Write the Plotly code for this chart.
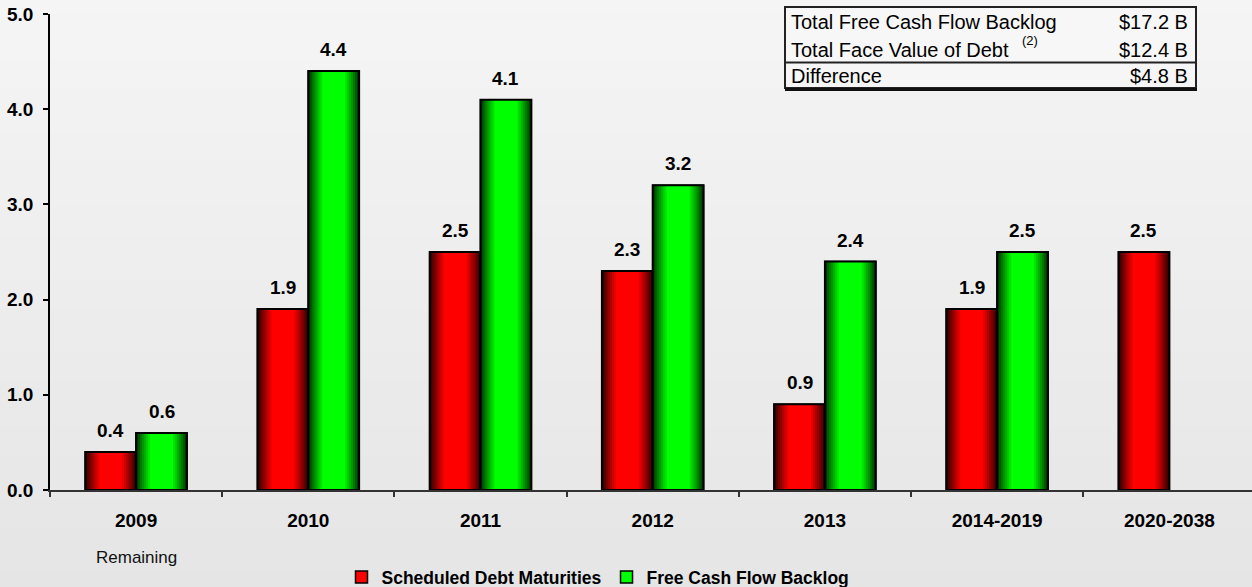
import plotly.graph_objects as go

# ---- data -------------------------------------------------------------
categories = ["2009", "2010", "2011", "2012", "2013", "2014-2019", "2020-2038"]
debt_maturities = [0.4, 1.9, 2.5, 2.3, 0.9, 1.9, 2.5]
fcf_backlog = [0.6, 4.4, 4.1, 3.2, 2.4, 2.5, None]
series_names = ["Scheduled Debt Maturities", "Free Cash Flow Backlog"]

table_labels = ["Total Free Cash Flow Backlog", "Total Face Value of Debt", "Difference"]
table_values = ["$17.2 B", "$12.4 B", "$4.8 B"]
table_footnote = "(2)"
first_label_note = "Remaining"

# ---- geometry / style --------------------------------------------------
FONT = "Liberation Sans"
W_PX, H_PX = 1252, 587
M_L, M_R, M_T, M_B = 50, 0, 14, 97
PLOT_W = W_PX - M_L - M_R
PLOT_H = H_PX - M_T - M_B
X_RANGE = [-0.5, 6.48]
CAT_PX = PLOT_W / (X_RANGE[1] - X_RANGE[0])

BAR_W = 0.295                 # width of one bar, in category units
STEP = 2.0 / CAT_PX           # 2px shading step per side
N_LAYERS = 9


def px_x(px):
    return (px - M_L) / PLOT_W


def px_y(py):
    return (H_PX - M_B - py) / PLOT_H


def shade(bright, dark, k):
    d = 2 * k + 1
    b = min(1.0, d / 15.0) ** 0.85
    c = [round(dk + (br - dk) * b) for br, dk in zip(bright, dark)]
    return f"rgb({c[0]},{c[1]},{c[2]})"


fig = go.Figure()

series = [
    (debt_maturities, -BAR_W, (255, 0, 0), (30, 0, 0)),
    (fcf_backlog, 0.0, (0, 255, 0), (0, 35, 0)),
]

for (vals, base_off, bright, dark), name in zip(series, series_names):
    # base bar (carries the legend entry)
    fig.add_trace(go.Bar(
        x=categories, y=vals, width=BAR_W, offset=base_off, name=name,
        marker=dict(color=f"rgb{bright}", line=dict(color="black", width=1.5)),
        hovertemplate="%{x}: %{y:.1f}<extra>" + name + "</extra>",
    ))
    # cylindrical shading: nested, progressively brighter bars
    for k in range(N_LAYERS):
        fig.add_trace(go.Bar(
            x=categories, y=vals, width=BAR_W - 2 * k * STEP,
            offset=base_off + k * STEP,
            marker=dict(color=shade(bright, dark, k), line=dict(width=0)),
            showlegend=False, hoverinfo="skip",
        ))
    # crisp outline on top
    fig.add_trace(go.Bar(
        x=categories, y=vals, width=BAR_W, offset=base_off,
        marker=dict(color="rgba(0,0,0,0)", line=dict(color="black", width=2)),
        showlegend=False, hoverinfo="skip",
    ))

annotations = []

# value labels above bars
for vals, base_off, _, _ in series:
    for i, v in enumerate(vals):
        if v is None:
            continue
        annotations.append(dict(
            x=i + base_off + BAR_W / 2, y=v, xref="x", yref="y",
            text=f"{v:.1f}", showarrow=False, yanchor="bottom", yshift=9,
            font=dict(family=FONT, size=19, color="black", weight="bold"),
        ))

# note under the first category
annotations.append(dict(
    x=0, y=px_y(557), xref="x", yref="paper", text=first_label_note,
    showarrow=False, yanchor="middle",
    font=dict(family=FONT, size=17, color="#111111"),
))

# summary table
row_centers = [22, 50.5, 75.5]
for lab, val, cy in zip(table_labels, table_values, row_centers):
    annotations.append(dict(
        x=px_x(789), y=px_y(cy), xref="paper", yref="paper", text=lab,
        showarrow=False, xanchor="left", yanchor="middle",
        font=dict(family=FONT, size=20, color="black"),
    ))
    annotations.append(dict(
        x=px_x(1190), y=px_y(cy), xref="paper", yref="paper", text=val,
        showarrow=False, xanchor="right", yanchor="middle",
        font=dict(family=FONT, size=20, color="black"),
    ))
annotations.append(dict(
    x=px_x(1030), y=px_y(40), xref="paper", yref="paper", text=table_footnote,
    showarrow=False, xanchor="center", yanchor="middle",
    font=dict(family=FONT, size=13, color="black"),
))

shapes = []
# soft vertical background gradient
n_bands = 40
top_c, bot_c = 245, 229
for b in range(n_bands):
    y0 = H_PX * b / n_bands
    y1 = H_PX * (b + 1) / n_bands + 0.5
    g = round(top_c + (bot_c - top_c) * (b + 0.5) / n_bands)
    shapes.append(dict(
        type="rect", xref="paper", yref="paper", layer="below",
        x0=px_x(0), x1=px_x(W_PX), y0=px_y(y1), y1=px_y(y0),
        fillcolor=f"rgb({g},{g},{g})", line=dict(width=0),
    ))
# table frame, separator and heavier bottom rule
shapes.append(dict(
    type="rect", xref="paper", yref="paper",
    x0=px_x(785), x1=px_x(1196), y0=px_y(88), y1=px_y(7),
    fillcolor="rgba(250,250,250,0.5)", line=dict(color="#222222", width=2),
))
shapes.append(dict(
    type="line", xref="paper", yref="paper",
    x0=px_x(785), x1=px_x(1196), y0=px_y(62.5), y1=px_y(62.5),
    line=dict(color="#222222", width=2),
))
shapes.append(dict(
    type="line", xref="paper", yref="paper",
    x0=px_x(785), x1=px_x(1197), y0=px_y(89.5), y1=px_y(89.5),
    line=dict(color="#111111", width=3),
))

fig.update_layout(
    width=W_PX, height=H_PX,
    margin=dict(l=M_L, r=M_R, t=M_T, b=M_B),
    barmode="overlay",
    paper_bgcolor="#ececec",
    plot_bgcolor="rgba(0,0,0,0)",
    font=dict(family=FONT, color="black"),
    xaxis=dict(
        type="category", range=X_RANGE, tickson="boundaries",
        ticks="outside", ticklen=5, tickcolor="#333333", tickwidth=1.5,
        showline=True, linecolor="#333333", linewidth=1.5,
        showgrid=False, zeroline=False, ticklabelstandoff=12,
        tickfont=dict(family=FONT, size=19, color="black", weight="bold"),
    ),
    yaxis=dict(
        range=[0, 5], dtick=1, tickformat=".1f",
        ticks="outside", ticklen=5, tickcolor="black", tickwidth=1.5,
        showline=True, linecolor="black", linewidth=1.5,
        showgrid=False, zeroline=False, ticklabelstandoff=6,
        tickfont=dict(family=FONT, size=19, color="black", weight="bold"),
    ),
    legend=dict(
        orientation="h", xref="container", yref="container",
        x=598 / W_PX, y=1 - 577 / H_PX, xanchor="center", yanchor="middle",
        bgcolor="rgba(0,0,0,0)",
        font=dict(family=FONT, size=17.5, color="black", weight="bold"),
    ),
    annotations=annotations,
    shapes=shapes,
)

fig.write_html("out.html")
